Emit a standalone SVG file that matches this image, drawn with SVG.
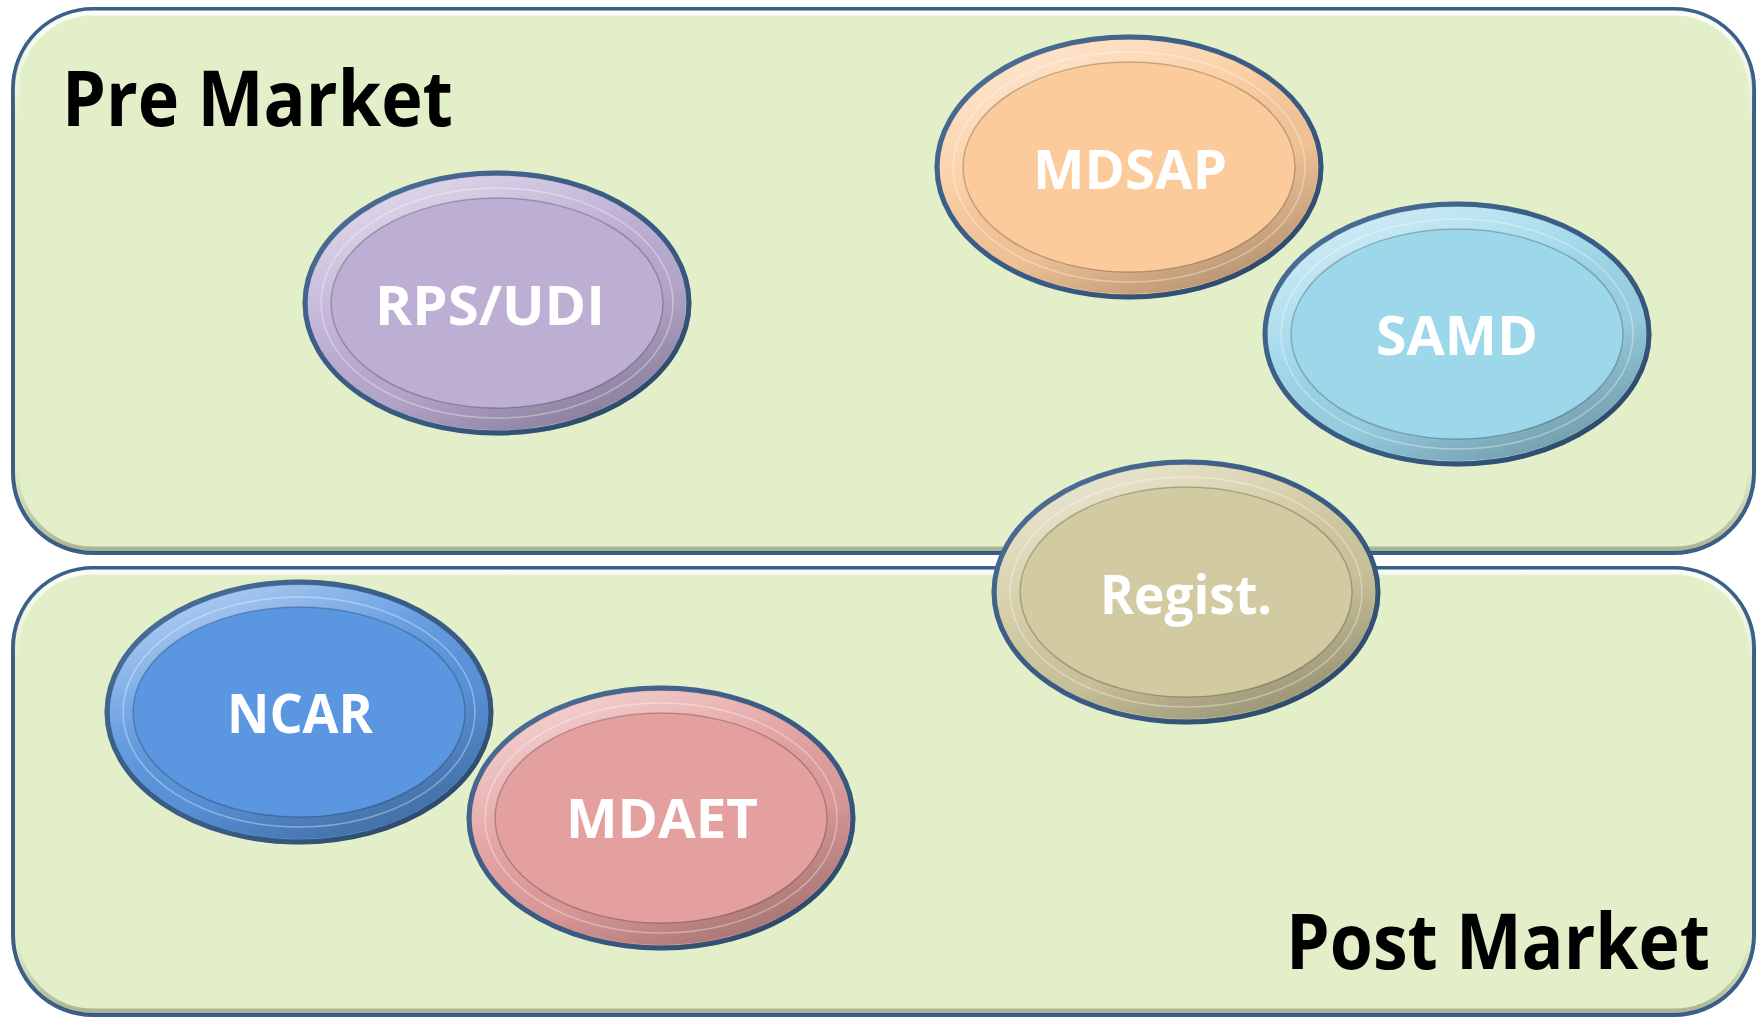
<svg xmlns="http://www.w3.org/2000/svg" width="1762" height="1020" viewBox="0 0 1762 1020">
  <style>
    .panel { fill: #E3EFC9; stroke: #3A5F88; stroke-width: 4; }
    .panel-hl { fill: none; stroke: url(#panelEdge); stroke-width: 5; }
    .rim { stroke: #3A5C84; stroke-width: 5; }
    .rim-shade { fill: none; stroke: url(#rimShade); stroke-width: 5; }
    .bevel { fill: url(#bevel); stroke: none; }
    .ring { fill: none; stroke: #ffffff; stroke-opacity: 0.35; stroke-width: 1.5; }
    .inner { stroke: #000000; stroke-opacity: 0.22; stroke-width: 1.5; }
    .lbl { font-family: "Open Sans", "Liberation Sans", sans-serif; font-weight: bold; fill: #ffffff; font-size: 54px; text-anchor: middle; }
    .title { font-family: "Open Sans", "Liberation Sans", sans-serif; font-weight: bold; fill: #000000; font-size: 77px; }
  </style>
  <defs>
    <linearGradient id="bevel" x1="0.2" y1="0" x2="0.8" y2="1">
      <stop offset="0" stop-color="#ffffff" stop-opacity="0.55"/>
      <stop offset="0.35" stop-color="#ffffff" stop-opacity="0.1"/>
      <stop offset="0.65" stop-color="#000000" stop-opacity="0.05"/>
      <stop offset="1" stop-color="#000000" stop-opacity="0.3"/>
    </linearGradient>
    <linearGradient id="rimShade" x1="0" y1="0" x2="1" y2="1">
      <stop offset="0" stop-color="#6D8FB8" stop-opacity="0.6"/>
      <stop offset="0.5" stop-color="#3A5C84" stop-opacity="0"/>
      <stop offset="1" stop-color="#1C2E45" stop-opacity="0.7"/>
    </linearGradient>
    <linearGradient id="panelEdge" x1="0" y1="0" x2="0" y2="1">
      <stop offset="0" stop-color="#ffffff" stop-opacity="0.9"/>
      <stop offset="0.2" stop-color="#ffffff" stop-opacity="0"/>
      <stop offset="0.85" stop-color="#000000" stop-opacity="0"/>
      <stop offset="1" stop-color="#000000" stop-opacity="0.25"/>
    </linearGradient>
  </defs>

  <g id="pre-market">
    <rect class="panel" x="13" y="9" width="1741" height="544" rx="80" ry="80"/>
    <rect class="panel-hl" x="17" y="13" width="1733" height="536" rx="76" ry="76"/>
    <text class="title" x="62" y="126" textLength="391" lengthAdjust="spacingAndGlyphs">Pre Market</text>
  </g>

  <g id="post-market">
    <rect class="panel" x="13" y="568" width="1741" height="447" rx="80" ry="80"/>
    <rect class="panel-hl" x="17" y="572" width="1733" height="439" rx="76" ry="76"/>
    <text class="title" x="1286" y="969" textLength="424" lengthAdjust="spacingAndGlyphs">Post Market</text>
  </g>

  <g id="connectors"/>

  <g id="rps-udi">
    <ellipse class="rim" cx="497" cy="303" rx="192" ry="130" fill="#BDAED4"/>
    <ellipse class="rim-shade" cx="497" cy="303" rx="192" ry="130"/>
    <ellipse class="bevel" cx="497" cy="303" rx="189" ry="127"/>
    <ellipse class="ring" cx="497" cy="303" rx="176" ry="115"/>
    <ellipse class="inner" cx="497" cy="303" rx="166" ry="105" fill="#BDAED4"/>
    <text class="lbl" x="490" y="325" textLength="230" lengthAdjust="spacingAndGlyphs">RPS/UDI</text>
  </g>

  <g id="mdsap">
    <ellipse class="rim" cx="1129" cy="167" rx="192" ry="130" fill="#FBCB9C"/>
    <ellipse class="rim-shade" cx="1129" cy="167" rx="192" ry="130"/>
    <ellipse class="bevel" cx="1129" cy="167" rx="189" ry="127"/>
    <ellipse class="ring" cx="1129" cy="167" rx="176" ry="115"/>
    <ellipse class="inner" cx="1129" cy="167" rx="166" ry="105" fill="#FBCB9C"/>
    <text class="lbl" x="1130" y="189" textLength="194" lengthAdjust="spacingAndGlyphs">MDSAP</text>
  </g>

  <g id="samd">
    <ellipse class="rim" cx="1457" cy="334" rx="192" ry="130" fill="#9DD7EA"/>
    <ellipse class="rim-shade" cx="1457" cy="334" rx="192" ry="130"/>
    <ellipse class="bevel" cx="1457" cy="334" rx="189" ry="127"/>
    <ellipse class="ring" cx="1457" cy="334" rx="176" ry="115"/>
    <ellipse class="inner" cx="1457" cy="334" rx="166" ry="105" fill="#9DD7EA"/>
    <text class="lbl" x="1457" y="355" textLength="162" lengthAdjust="spacingAndGlyphs">SAMD</text>
  </g>

  <g id="regist">
    <ellipse class="rim" cx="1186" cy="592" rx="192" ry="130" fill="#D2CAA0"/>
    <ellipse class="rim-shade" cx="1186" cy="592" rx="192" ry="130"/>
    <ellipse class="bevel" cx="1186" cy="592" rx="189" ry="127"/>
    <ellipse class="ring" cx="1186" cy="592" rx="176" ry="115"/>
    <ellipse class="inner" cx="1186" cy="592" rx="166" ry="105" fill="#D2CAA0"/>
    <text class="lbl" x="1186" y="614" textLength="172" lengthAdjust="spacingAndGlyphs">Regist.</text>
  </g>

  <g id="ncar">
    <ellipse class="rim" cx="299" cy="712" rx="192" ry="130" fill="#5B97E0"/>
    <ellipse class="rim-shade" cx="299" cy="712" rx="192" ry="130"/>
    <ellipse class="bevel" cx="299" cy="712" rx="189" ry="127"/>
    <ellipse class="ring" cx="299" cy="712" rx="176" ry="115"/>
    <ellipse class="inner" cx="299" cy="712" rx="166" ry="105" fill="#5B97E0"/>
    <text class="lbl" x="300" y="733" textLength="146" lengthAdjust="spacingAndGlyphs">NCAR</text>
  </g>

  <g id="mdaet">
    <ellipse class="rim" cx="661" cy="818" rx="192" ry="130" fill="#E4A09F"/>
    <ellipse class="rim-shade" cx="661" cy="818" rx="192" ry="130"/>
    <ellipse class="bevel" cx="661" cy="818" rx="189" ry="127"/>
    <ellipse class="ring" cx="661" cy="818" rx="176" ry="115"/>
    <ellipse class="inner" cx="661" cy="818" rx="166" ry="105" fill="#E4A09F"/>
    <text class="lbl" x="662" y="838" textLength="192" lengthAdjust="spacingAndGlyphs">MDAET</text>
  </g>
</svg>
